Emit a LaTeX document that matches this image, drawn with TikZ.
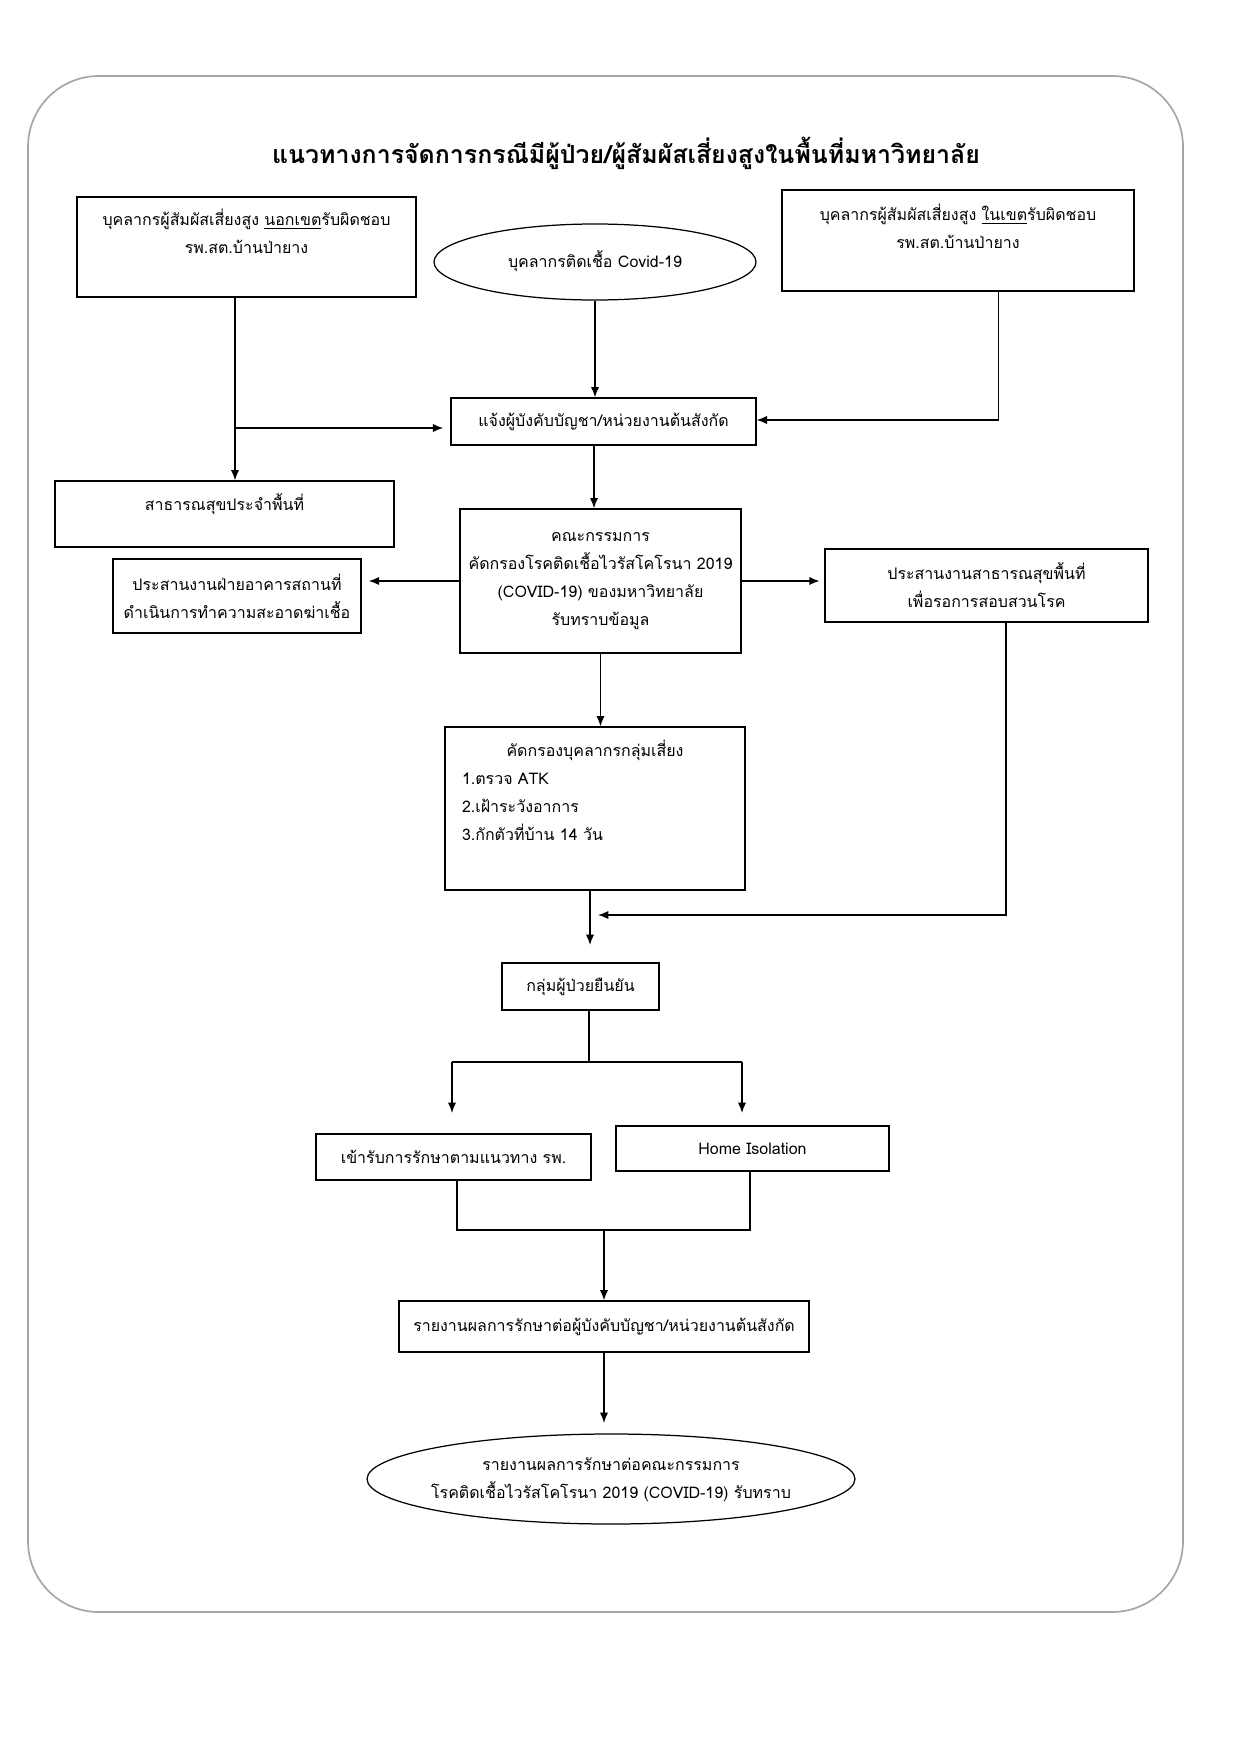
\documentclass[tikz,border=0pt]{standalone}
\usepackage{fontspec}
\setmainfont[Script=Thai]{Loma}
\usetikzlibrary{arrows.meta,shapes.geometric}
\definecolor{framegray}{RGB}{165,165,165}
\newdimen\pxu \pxu=0.16935mm
% text kept at the top of a fixed box: width, height, first baseline, text
\newcommand{\toptext}[4]{\parbox[c][#2\pxu][t]{#1\pxu}{\centering\rule{0pt}{#3\pxu}#4}}
% text that does not widen an oval
\newcommand{\flattext}[1]{\makebox[0pt]{\begin{tabular}{@{}c@{}}#1\end{tabular}}}

\begin{document}
\begin{tikzpicture}[x=0.16935mm,y=-0.16935mm,
  every node/.style={font=\fontsize{7.7}{13.5}\selectfont},
  box/.style={draw,line width=0.6pt,inner sep=0pt,align=center},
  oval/.style={draw,ellipse,line width=0.6pt,inner sep=0pt,align=center},
  flow/.style={line width=0.7pt,-{Latex[length=5pt,width=4pt]}},
  link/.style={line width=0.7pt}]
  \useasboundingbox (0,0) rectangle (1240,1754);
  \draw[framegray,line width=0.8pt,rounded corners=12mm] (28,76) rectangle (1183,1612);
  \node[font=\fontsize{12}{15}\selectfont\bfseries] (title) at (626,153)
    {แนวทางการจัดการกรณีมีผู้ป่วย/ผู้สัมผัสเสี่ยงสูงในพื้นที่มหาวิทยาลัย};

  \node[box] (outer) at (246.5,247)
    {\toptext{339}{100}{28}{บุคลากรผู้สัมผัสเสี่ยงสูง \underline{นอกเขต}รับผิดชอบ\\รพ.สต.บ้านป่ายาง}};
  \node[oval,minimum width=322*\pxu,minimum height=76*\pxu] (case) at (595,262)
    {\flattext{บุคลากรติดเชื้อ Covid-19}};
  \node[box] (inner) at (958,240.5)
    {\toptext{352}{101}{30}{บุคลากรผู้สัมผัสเสี่ยงสูง \underline{ในเขต}รับผิดชอบ\\รพ.สต.บ้านป่ายาง}};
  \node[box,minimum width=305*\pxu,minimum height=47*\pxu] (notify) at (603.5,421.5)
    {แจ้งผู้บังคับบัญชา/หน่วยงานต้นสังกัด};
  \node[box] (pub) at (224.5,514)
    {\toptext{339}{66}{29}{สาธารณสุขประจำพื้นที่}};
  \node[box,minimum width=281*\pxu,minimum height=144*\pxu] (com) at (600.5,581)
    {คณะกรรมการ\\คัดกรองโรคติดเชื้อไวรัสโคโรนา 2019\\(COVID-19) ของมหาวิทยาลัย\\รับทราบข้อมูล};
  \node[box,minimum width=248*\pxu,minimum height=74*\pxu] (bld) at (237,596)
    {ประสานงานฝ่ายอาคารสถานที่\\ดำเนินการทำความสะอาดฆ่าเชื้อ};
  \node[box,minimum width=323*\pxu,minimum height=73*\pxu] (inv) at (986.5,585.5)
    {ประสานงานสาธารณสุขพื้นที่\\เพื่อรอการสอบสวนโรค};
  \node[box] (scr) at (595,808.5)
    {\parbox[c][163\pxu][t]{300\pxu}{{\centering\rule{0pt}{29\pxu}คัดกรองบุคลากรกลุ่มเสี่ยง\par}%
      \raggedright\leftskip=17\pxu 1.ตรวจ ATK\\2.เฝ้าระวังอาการ\\3.กักตัวที่บ้าน 14 วัน}};
  \node[box,minimum width=157*\pxu,minimum height=47*\pxu] (conf) at (580.5,986.5)
    {กลุ่มผู้ป่วยยืนยัน};
  \node[box,minimum width=275*\pxu,minimum height=46*\pxu] (hosp) at (453.5,1157)
    {เข้ารับการรักษาตามแนวทาง รพ.};
  \node[box,minimum width=273*\pxu,minimum height=45*\pxu] (home) at (752.5,1148.5)
    {Home Isolation};
  \node[box,minimum width=410*\pxu,minimum height=51*\pxu] (rep) at (604,1326.5)
    {รายงานผลการรักษาต่อผู้บังคับบัญชา/หน่วยงานต้นสังกัด};
  \node[oval,minimum width=488*\pxu,minimum height=90*\pxu] (final) at (611,1479)
    {\flattext{รายงานผลการรักษาต่อคณะกรรมการ\\โรคติดเชื้อไวรัสโคโรนา 2019 (COVID-19) รับทราบ}};

  % connectors
  \coordinate (jl) at (235,428);
  \coordinate (jr) at (998.5,420);
  \coordinate (c1) at (594,0);
  \coordinate (ja) at (590,945);
  \coordinate (jb) at (1006,915);
  \coordinate (jb2) at (598,915);
  \coordinate (split) at (589,1062);
  \coordinate (sl) at (452,1062);
  \coordinate (sr) at (742,1062);
  \coordinate (ml) at (457,1230);
  \coordinate (mr) at (750,1230);
  \coordinate (mm) at (604,1230);
  \coordinate (je) at (604,1423);
  \draw[flow] (outer.south -| jl) -- (pub.north -| jl);
  \draw[flow,shorten >=1.2mm] (jl) -- (notify.west |- jl);
  \draw[flow] (case.south) -- (case.south |- notify.north);
  \draw[flow] (inner.south -| jr) -- (jr) -- (notify.east |- jr);
  \draw[flow] (notify.south -| c1) -- (com.north -| c1);
  \draw[flow,shorten >=1.2mm] (com.west) -- (com.west -| bld.east);
  \draw[flow,shorten >=0.8mm] (com.east) -- (com.east -| inv.west);
  \draw[flow] (com.south) -- (com.south |- scr.north);
  \draw[flow] (scr.south -| ja) -- (ja);
  \draw[flow] (inv.south -| jb) -- (jb) -- (jb2);
  \draw[link] (conf.south -| split) -- (split);
  \draw[link] (sl) -- (sr);
  \draw[flow] (sl) -- ++(0,51);
  \draw[flow] (sr) -- ++(0,51);
  \draw[link] (hosp.south -| ml) -- (ml) -- (mr) -- (home.south -| mr);
  \draw[flow] (mm) -- (rep.north -| mm);
  \draw[flow] (rep.south) -- (je);
\end{tikzpicture}
\end{document}
